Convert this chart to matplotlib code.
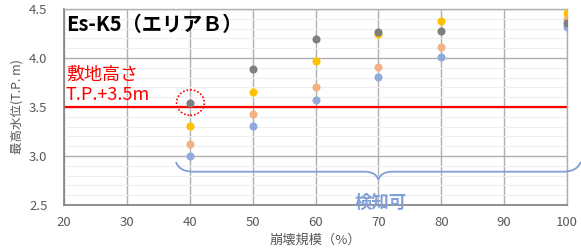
import numpy as np
import matplotlib
matplotlib.use("Agg")
import matplotlib.pyplot as plt
from matplotlib.path import Path
from matplotlib.patches import PathPatch, Ellipse
from matplotlib.ticker import MultipleLocator, FormatStrFormatter

plt.rcParams['font.family'] = ['Noto Sans CJK JP', 'DejaVu Sans']

# collapse scale (%) and max water level (T.P. m) for four series
scale = [40, 50, 60, 70, 80, 100]
level_gray = [3.54, 3.89, 4.19, 4.27, 4.28, 4.36]
level_yellow = [3.31, 3.65, 3.97, 4.24, 4.38, 4.46]
level_orange = [3.12, 3.43, 3.70, 3.91, 4.11, 4.40]
level_blue = [3.00, 3.31, 3.57, 3.81, 4.01, 4.32]

xticks = [20, 30, 40, 50, 60, 70, 80, 90, 100]
site_height = 3.5

fig = plt.figure(figsize=(5.81, 2.52), dpi=100)
ax = fig.add_axes([0.1102, 0.1865, 0.8657, 0.7778])

ax.set_xlim(20, 100)
ax.set_ylim(2.5, 4.5)
ax.set_xticks(xticks)
ax.yaxis.set_major_locator(MultipleLocator(0.5))
ax.yaxis.set_minor_locator(MultipleLocator(0.1))
ax.yaxis.set_major_formatter(FormatStrFormatter('%.1f'))

ax.grid(True, which='minor', axis='y', color='#eeeeee', lw=0.8)
ax.grid(True, which='major', color='#b0b0b0', lw=1.0)
ax.set_axisbelow(True)

for s in ['left', 'bottom']:
    ax.spines[s].set_color('#7f7f7f')
    ax.spines[s].set_linewidth(1.2)
for s in ['top', 'right']:
    ax.spines[s].set_color('#b0b0b0')
    ax.spines[s].set_linewidth(1.0)

ax.tick_params(which='both', length=0, labelsize=9.5, labelcolor='#595959')
ax.tick_params(axis='y', pad=12)
ax.tick_params(axis='x', pad=8)

ax.axhline(site_height, color='#ff0000', lw=1.6, zorder=2)

ms = 34
ax.scatter(scale, level_blue, s=ms, color='#8faadc', zorder=3, lw=0)
ax.scatter(scale, level_orange, s=ms, color='#f4b183', zorder=3, lw=0)
ax.scatter(scale, level_yellow, s=ms, color='#ffc000', zorder=3, lw=0)
ax.scatter(scale, level_gray, s=ms, color='#7f7f7f', zorder=4, lw=0)

# dotted circle around the 40% gray point
ax.add_patch(Ellipse((40.1, 3.545), 4.4, 0.26, fill=False, ec='#ff0000',
                     ls=(0, (1, 1.2)), lw=1.2, zorder=5))

# curly brace under the detectable range
bc = '#7f9fd8'
yb = 2.84
verts = [(37.8, 2.94), (38.3, yb), (40.5, yb),
         (67.8, yb),
         (69.6, yb), (70.0, 2.76),
         (70.4, yb), (72.2, yb),
         (99.5, yb),
         (101.6, yb), (102.2, 2.94)]
codes = [Path.MOVETO, Path.CURVE3, Path.CURVE3,
         Path.LINETO,
         Path.CURVE3, Path.CURVE3,
         Path.CURVE3, Path.CURVE3,
         Path.LINETO,
         Path.CURVE3, Path.CURVE3]
ax.add_patch(PathPatch(Path(verts, codes), fill=False, ec=bc, lw=1.3,
                       clip_on=False, zorder=3))
ax.text(70.3, 2.52, '検知可', color=bc, fontsize=12.5, fontweight='bold',
        ha='center', va='center', zorder=6)

ax.text(20.3, 4.45, 'Es-K5（エリアＢ）', fontsize=14.5, fontweight='bold',
        color='black', ha='left', va='top')
ax.text(20.3, 3.83, '敷地高さ', fontsize=13, color='#ff0000', ha='left', va='center')
ax.text(20.3, 3.62, 'T.P.+3.5m', fontsize=13, color='#ff0000', ha='left', va='center')

ax.set_xlabel('崩壊規模（%）', fontsize=9.5, color='#595959', labelpad=3)
ax.set_ylabel('最高水位(T.P. m)', fontsize=9, color='#595959', labelpad=4)

fig.savefig('out.png', dpi=100)
